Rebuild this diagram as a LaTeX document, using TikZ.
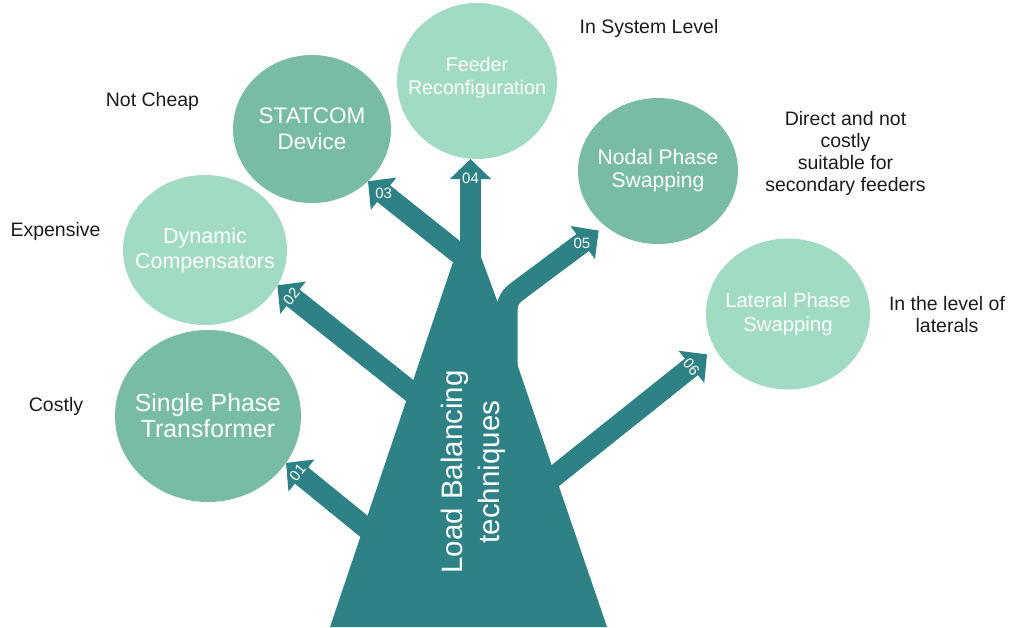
\documentclass[tikz,border=0pt]{standalone}
\usepackage{fontspec}
\setmainfont{Liberation Sans}
\usetikzlibrary{arrows.meta,calc,shapes.geometric}

\definecolor{trunkteal}{HTML}{2E8286}
\definecolor{leafdark}{HTML}{78BCA4}
\definecolor{leaflight}{HTML}{A2DBC3}
\definecolor{notegray}{HTML}{1C1C1C}

\newcommand{\fsz}[2]{\fontsize{#1}{#2}\selectfont}

\tikzset{
  leaf/.style={ellipse,inner sep=0pt,outer sep=0pt},
  leaftext/.style={text=white,align=center,inner sep=0pt},
  note/.style={text=notegray,align=center,font=\fsz{19.5}{21.7}},
  branch/.style={trunkteal,line width=21pt,line join=round,
    -{Triangle[width=40pt 0 0,length=20pt 0 0]}},
  tag/.style={text=white,inner sep=0pt,font=\fsz{15}{15}},
}

\begin{document}
\begin{tikzpicture}[x=1pt,y=-1pt]
\useasboundingbox (0,0) rectangle (1009,627);

% the six leaves
\node[leaf,fill=leafdark,minimum width=186pt,minimum height=172pt] (single) at (208,416) {};
\node[leaf,fill=leaflight,minimum width=164pt,minimum height=150pt] (dynamic) at (205,250) {};
\node[leaf,fill=leafdark,minimum width=158pt,minimum height=148pt] (statcom) at (312,129) {};
\node[leaf,fill=leaflight,minimum width=160pt,minimum height=156pt] (feeder) at (477,81) {};
\node[leaf,fill=leafdark,minimum width=160pt,minimum height=146pt] (nodal) at (658,171) {};
\node[leaf,fill=leaflight,minimum width=164pt,minimum height=151pt] (lateral) at (788,314) {};

\node[leaftext,font=\fsz{24.8}{26}] (single text) at (single) {Single Phase\\Transformer};
\node[leaftext,font=\fsz{21.5}{25}] (dynamic text) at (dynamic) {Dynamic\\Compensators};
\node[leaftext,font=\fsz{22.5}{26}] (statcom text) at (statcom) {STATCOM\\Device};
\node[leaftext,font=\fsz{19.7}{23}] (feeder text) at ([yshift=3.5]feeder) {Feeder\\Reconfiguration};
\node[leaftext,font=\fsz{21.1}{23}] (nodal text) at (nodal) {Nodal Phase\\Swapping};
\node[leaftext,font=\fsz{20.3}{24}] (lateral text) at (lateral) {Lateral Phase\\Swapping};

% roots of the branches, inside the trunk
\coordinate (r01) at (382,541);
\coordinate (r02) at (428,405);
\coordinate (r03) at (472,264);
\coordinate (r04) at (470.5,285);
\coordinate (r05) at (507,375);
\coordinate (r06) at (536,491);
\coordinate (t04) at (r04 |- feeder.south);

\draw[branch] (r01) -- (single.-31);
\draw[branch] (r02) -- (dynamic.-26);
\draw[branch] (r03) -- (statcom.-43);
\draw[branch] (r04) -- (t04);
\draw[branch,shorten >=8pt] (r05) -- (507,312) .. controls (507,300) and (511,296) .. (519,290) -- (nodal.-134);
\draw[branch,shorten >=10pt] (r06) -- (lateral.-155);

% trunk
\fill[trunkteal] (330,627) -- (452,265) -- (461,244) -- (481,244) -- (481,257)
  -- (498,303) -- (512,330) -- (517.5,365) -- (607,627) -- cycle;

\node[text=white,rotate=90,align=center,font=\fsz{29.5}{37}] (title) at (473,472) {Load Balancing\\techniques};

% numbers on the arrow heads
\node[tag,rotate=51] at ($(single.-31)!15pt!(r01)$) {01};
\node[tag,rotate=51] at ($(dynamic.-26)!18pt!(r02)$) {02};
\node[tag] at ($(statcom.-43)!20pt!(r03)$) {03};
\node[tag] at ($(t04)!19pt!(r04)$) {04};
\node[tag] at ($(nodal.-134)!29pt!(519,290)$) {05};
\node[tag,rotate=-51] at ($(lateral.-155)!30pt!(r06)$) {06};

% remarks
\node[note] (costly) at (56,406) {Costly};
\node[note] (expensive) at (55.5,231) {Expensive};
\node[note] (notcheap) at (152.5,101) {Not Cheap};
\node[note] (syslevel) at (649,28) {In System Level};
\node[note] (direct) at (845.5,153.5) {Direct and not\\costly\\suitable for\\secondary feeders};
\node[note] (laterals) at (947,314.5) {In the level of\\laterals};
\end{tikzpicture}
\end{document}
